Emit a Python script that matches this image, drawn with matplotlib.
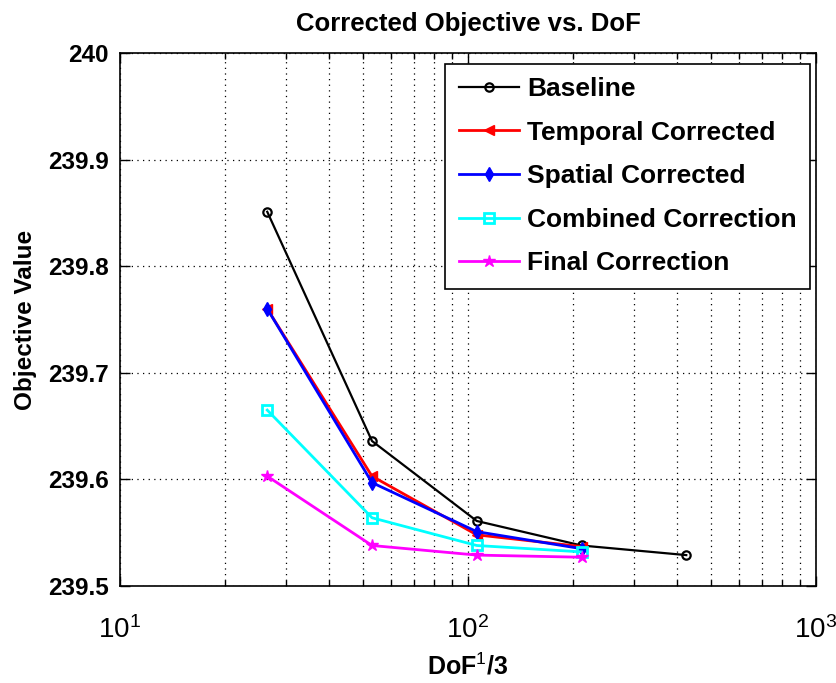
import matplotlib
matplotlib.use("Agg")
import matplotlib.pyplot as plt
from matplotlib.ticker import LogLocator, FixedLocator

plt.rcParams['font.family'] = ['Liberation Sans', 'DejaVu Sans']
plt.rcParams['mathtext.fontset'] = 'custom'
plt.rcParams['mathtext.rm'] = 'Liberation Sans'
plt.rcParams['mathtext.it'] = 'Liberation Sans:italic'
plt.rcParams['mathtext.bf'] = 'Liberation Sans:bold'

dof = [26.5, 53, 106, 212, 424]
baseline = [239.851, 239.636, 239.561, 239.538, 239.529]
temporal = [239.760, 239.603, 239.548, 239.537]
spatial = [239.760, 239.597, 239.551, 239.535]
combined = [239.665, 239.564, 239.538, 239.532]
final = [239.603, 239.538, 239.529, 239.527]

fig = plt.figure(figsize=(8.36, 6.83), dpi=100)
ax = fig.add_axes([0.1435, 0.142, 0.8325, 0.7805])

ax.plot(dof, baseline, color='black', lw=1.6, marker='o', ms=6, mfc='none', mew=1.6, label='Baseline')
ax.plot(dof[:4], temporal, color='red', lw=2, marker='<', ms=7, label='Temporal Corrected')
ax.plot(dof[:4], spatial, color='blue', lw=2, marker='d', ms=7, label='Spatial Corrected')
ax.plot(dof[:4], combined, color='cyan', lw=2, marker='s', ms=7, mfc='none', mew=2, label='Combined Correction')
ax.plot(dof[:4], final, color='magenta', lw=2, marker='*', ms=9, label='Final Correction')

ax.set_xscale('log')
ax.set_xlim(10, 1000)
ax.set_ylim(239.5, 240)
ax.yaxis.set_major_locator(FixedLocator([239.5, 239.6, 239.7, 239.8, 239.9, 240]))
ax.set_yticklabels(['239.5', '239.6', '239.7', '239.8', '239.9', '240'])
ax.xaxis.set_minor_locator(LogLocator(base=10, subs=range(2, 10)))

grid_style = dict(color='black', linestyle=(0, (1, 3.5)), linewidth=0.9)
ax.grid(True, which='major', axis='both', **grid_style)
ax.grid(True, which='minor', axis='x', **grid_style)

ax.tick_params(which='both', direction='in', top=True, right=True, width=1)
ax.tick_params(which='major', length=7)
ax.tick_params(which='minor', length=4)
ax.tick_params(axis='y', which='major', labelsize=17.5, pad=8)
ax.tick_params(axis='x', which='major', labelsize=20, pad=22)
for lab in ax.get_yticklabels():
    lab.set_fontweight('bold')
for sp in ax.spines.values():
    sp.set_linewidth(1.2)

ax.set_xlabel('DoF$^1$/3', fontsize=18, fontweight='bold', labelpad=6)
ax.set_ylabel('Objective Value', fontsize=17.5, fontweight='bold', labelpad=8)
ax.set_title('Corrected Objective vs. DoF', fontsize=18.5, fontweight='bold', pad=16)

leg = ax.legend(loc='upper right', bbox_to_anchor=(810 / 836, 1 - 64 / 683),
                bbox_transform=fig.transFigure, borderaxespad=0,
                prop={'weight': 'bold', 'size': 19},
                fancybox=False, edgecolor='black', framealpha=1,
                handlelength=2.3, labelspacing=0.74, borderpad=0.5, handletextpad=0.3)
leg.get_frame().set_linewidth(1.2)

fig.savefig('out.png', dpi=100)
